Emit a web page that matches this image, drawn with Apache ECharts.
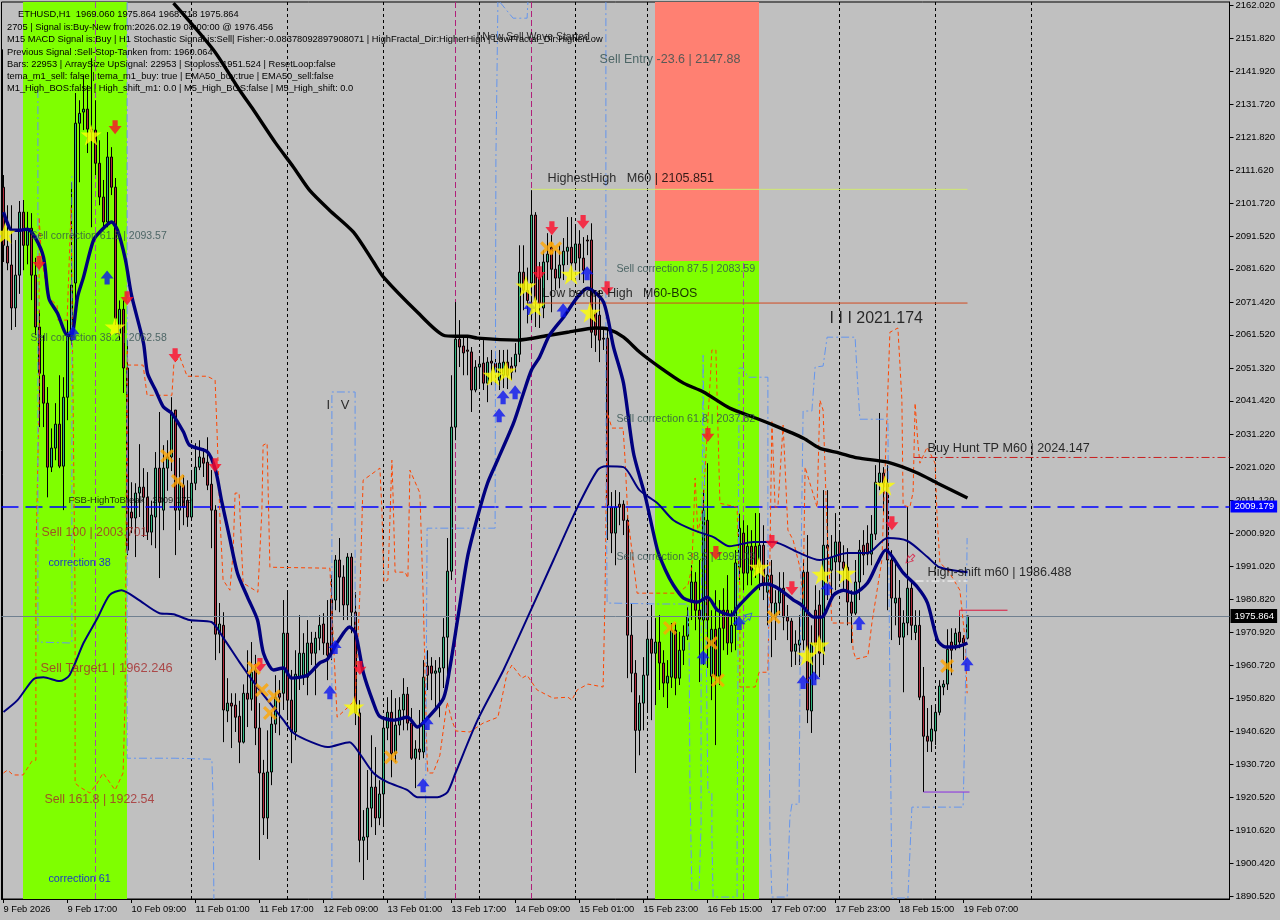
<!DOCTYPE html>
<html><head><meta charset="utf-8">
<style>html,body{margin:0;padding:0;background:#c0c0c0}#c{width:1280px;height:920px}</style>
<script src="https://cdn.jsdelivr.net/npm/echarts@6/dist/echarts.min.js"></script>
</head><body><div id="c"></div>
<script>
const tickLabels=["9 Feb 2026","9 Feb 17:00","10 Feb 09:00","11 Feb 01:00","11 Feb 17:00","12 Feb 09:00","13 Feb 01:00","13 Feb 17:00","14 Feb 09:00","15 Feb 01:00","15 Feb 23:00","16 Feb 15:00","17 Feb 07:00","17 Feb 23:00","18 Feb 15:00","19 Feb 07:00"];
const priceTicks=[2162.02,2151.82,2141.92,2131.72,2121.82,2111.62,2101.72,2091.52,2081.62,2071.42,2061.52,2051.32,2041.42,2031.22,2021.02,2011.12,2000.92,1991.02,1980.82,1970.92,1960.72,1950.82,1940.62,1930.72,1920.52,1910.62,1900.42,1890.52];
// open, close, low, high
const candles=[
[2106.5,2088.8,2083.7,2110.2],[2088.5,2083.4,2081.2,2101],[2082.8,2069.7,2063,2101],[2069.7,2079.7,2063.9,2090.4],[2079.7,2098.9,2074,2102.3],[2098.9,2088.8,2081.2,2102.6],[2088.8,2093.4,2083,2099],[2094,2079.7,2072.1,2098.6],
[2079.7,2063.9,2061.4,2085],[2063.9,2049.8,2033.4,2069],[2049.2,2040.7,2033.4,2061.4],[2040.7,2021.2,2012,2045.6],[2021.2,2027,2019.7,2033],[2027,2034.3,2023.3,2040.7],[2034.3,2021.5,2020.9,2049.2],[2021.5,2042.5,2008.1,2048.6],
[2042.5,2061.4,2035.5,2066],[2059.9,2076.7,2058.4,2108],[2077.3,2126,2072,2135.2],[2126,2129,2108,2133],[2129.4,2130.3,2123.9,2140.6],[2130.3,2124.2,2116.9,2137.6],[2124.2,2123.3,2094.3,2145.8],[2123.9,2113.8,2110.2,2133],
[2113.8,2103.5,2101,2120.8],[2103.5,2095.9,2094.3,2108.7],[2095.9,2115.7,2094.3,2123.3],[2115.7,2106.5,2104.1,2118.7],[2106.5,2066.6,2064.5,2109.3],[2062,2069.3,2059.9,2072],[2069.3,2051.4,2043.8,2072],[2051.4,1995.9,1994.4,2059.9],
[2007.5,2005.7,2001.1,2016.6],[2005.7,2013.3,1993.8,2016.3],[2013.3,2015.1,2006,2028.2],[2015.1,2012,1999.9,2020.9],[2012,2001.4,1999,2019.7],[2001.4,2006.6,1997.4,2011],[2006,2020.9,1996.5,2025.8],[2020.9,2010.5,1987.4,2038],
[2008.1,2020.9,2002,2027.9],[2020.9,2024.3,2014,2029.4],[2024.3,2037.7,2020,2042.5],[2038.6,2008.1,1994.4,2038.6],[2008.1,2016.3,2002,2024],[2015.7,2009,2003.5,2018.8],[2011.1,2006,2003,2017.2],[2006,2016.3,2005,2020.3],
[2016.3,2021.2,2014.2,2028.5],[2021.2,2024.3,2020.3,2029.4],[2024,2022.4,2018.2,2027],[2022.7,2015.7,2014.2,2030.3],[2016,2008.1,1996.5,2020.3],[2008.1,1970.3,1962.4,2009.6],[1970.3,1973.4,1964.5,1979.8],[1973,1947.2,1937.4,1977],
[1946.9,1949.3,1943.5,1956.9],[1949.3,1948.4,1935.6,1952.3],[1948.7,1945,1940.5,1952.3],[1945.3,1937.4,1931,1950],[1937.4,1952.3,1937,1955],[1952.3,1950.5,1942,1965.4],[1950.5,1958.7,1947,1967.9],[1959.4,1941.7,1936.5,1964],
[1941.7,1928,1901.5,1949.3],[1928,1914.3,1909.1,1932],[1914.3,1928.3,1907.9,1941],[1928.3,1942.9,1924.3,1946.5],[1942.9,1951.1,1940.2,1957.8],[1952.3,1951.1,1939.5,1956.3],[1952.3,1970.6,1947.2,1980.7],[1970.6,1950.2,1944.1,1983.7],
[1950.2,1940.5,1931,1959.4],[1940.5,1958.1,1938,1965.4],[1957.2,1964.5,1953.3,1976.1],[1957.8,1964.5,1954.8,1970.6],[1957.2,1967.6,1951.7,1974.6],[1967.6,1964.5,1960.9,1971],[1964.5,1969.1,1951.7,1971],[1969.1,1973,1965.4,1976.1],
[1973.4,1967.6,1964,1976.7],[1967.6,1963.9,1956.3,1980.7],[1981,1964.5,1962.4,1988.3],[1980.7,1992.9,1977.6,1994.4],[1992.9,1987.7,1977,1999.6],[1987.7,1979.2,1974.6,1991.3],[1979.2,1993.8,1974.6,1995],[1993.8,1977,1970.6,1995],
[1977,1946.3,1942.6,1983.1],[1946.3,1907.5,1900.8,1950.2],[1907.5,1908.5,1895.4,1916.7],[1908.5,1917.3,1901.5,1928.9],[1917.3,1923.7,1911.5,1939.5],[1923.7,1914.3,1909.1,1935.9],[1914.3,1921.6,1912.1,1925.8],[1921.6,1941.7,1912.1,1944.7],
[1941.7,1946.5,1938,1951.1],[1946.5,1934,1926.7,1953.3],[1934,1942.6,1931.3,1950.8],[1942.6,1947.2,1939.5,1951.1],[1947.2,1952,1941,1956.9],[1952,1943.2,1941,1954.2],[1943.2,1932.5,1932,1947.8],[1932.5,1935.3,1923.4,1938],
[1935.3,1934.4,1932,1947.2],[1934.4,1957.2,1932.5,1962.4],[1960.6,1957.8,1953.3,1965.4],[1960.6,1958.4,1950.2,1963.3],[1958.4,1959.1,1948.1,1962.4],[1958.7,1960,1945,1963.3],[1960,1969.4,1953.9,1975.2],[1969.4,1989.5,1954.2,1999.6],
[1989.5,2033.4,1986.8,2049.2],[2033.4,2060.2,2029.4,2071.5],[2060.2,2057.8,2051.7,2066],[2058.1,2056,2049.2,2060.8],[2056.9,2056.5,2049.2,2060.8],[2056.3,2044.7,2038,2057.8],[2044.7,2051.7,2044,2053.8],[2051.7,2052.6,2045.6,2054.7],
[2052.9,2046.8,2044.7,2059.9],[2046.8,2053.2,2041,2054.7],[2053.5,2052.9,2046.2,2056.9],[2052.9,2050.1,2046.2,2056.3],[2047.7,2052.9,2044.7,2056.9],[2049.2,2053.2,2045.3,2056.9],[2053.2,2049.2,2045,2057],[2052,2050.1,2047.7,2054.7],
[2052,2055.6,2050.1,2059],[2055.6,2080.6,2053.2,2088.8],[2080.6,2075.1,2069,2088.8],[2075,2072,2065,2082],[2077.3,2098,2066,2105.6],[2098,2072.1,2063.9,2098.9],[2079,2071.2,2063.6,2083.7],[2069.7,2083.7,2066.6,2087.3],
[2083.7,2086.1,2078.2,2092.5],[2088.2,2081.5,2068.4,2091.9],[2081.5,2078.8,2075.1,2087.3],[2078.8,2082.8,2075.7,2088.8],[2082.8,2087,2078.2,2091],[2087,2088.2,2082.8,2097.4],[2088.2,2083.4,2078.2,2097.4],[2083.4,2089.2,2081.2,2095],
[2089.2,2084.9,2078.2,2093.4],[2084.9,2081.2,2077.3,2091.3],[2090.4,2090.1,2085.8,2091.9],[2090.4,2062.3,2057.5,2095.5],[2068.4,2061.4,2056.3,2075.1],[2067.5,2059.9,2053.2,2075.1],[2060.5,2060.2,2056.9,2063.6],[2060.5,2009.6,1999,2063],
[2009,2001.1,1995,2013.6],[2001.1,2009,1991.3,2014.2],[2009.9,2009,2003.5,2013.6],[2009.9,2005,2000.5,2011.1],[2005,1970,1956.9,2006.6],[1970,1958.4,1952.6,1979.8],[1958.4,1941,1928,1962.4],[1941,1949.3,1933.4,1951.7],
[1949.3,1957.8,1941,1963.3],[1957.8,1968.8,1947.2,1974],[1968.8,1964.5,1944.1,1979.2],[1964.5,1967.9,1948.7,1975.2],[1967.9,1961.5,1953.3,1976.1],[1961.5,1955.4,1951.1,1965.4],[1955.4,1957.5,1947.8,1962.4],[1957.2,1971.5,1953.9,1973.7],
[1971.5,1956.9,1951.7,1973.7],[1956.9,1965.4,1954.8,1971],[1965.4,1969.7,1960.9,1973],[1969.7,1975.8,1968.5,1978.5],[1980.1,1986.2,1974.6,1991.3],[1986.2,1977.6,1971.5,1989.2],[1977.6,1974.9,1955.7,1992.9],[1974.6,2008.1,1960.9,2014.2],
[2005,1974.6,1960,2022.4],[1957.5,1971.8,1950.2,1977.6],[1971.8,1957.5,1936.5,1983.7],[1957.5,1972.1,1954.8,1980.7],[1977.6,1972.1,1965.4,1984.3],[1977.6,1967.6,1964,1988.3],[1967.6,1973,1964.8,1977.6],[1973,1992,1965.4,1995.9],
[1990.7,2002.6,1986.8,2007],[2001.1,1988.9,1983.7,2005],[1988.9,1997.1,1985.2,2003.5],[1997.1,1989.8,1985.2,2002],[1997.1,1990.7,1987.4,2007.2],[1990.7,1997.4,1983.7,2007.2],[1997.4,1985.9,1980.7,2003.5],[1983.1,1988.3,1973,1992.9],
[1988.3,1979.8,1963.3,1992.9],[1975.5,1979.8,1968.5,1983.7],[1979.8,1984.3,1976.1,1989.2],[1984.3,1975.5,1971.5,1989.2],[1975.5,1974.3,1968.5,1979.2],[1974.3,1965.1,1960.3,1975.2],[1965.1,1967.3,1960.9,1971.5],[1967,1968.5,1960.9,1976.1],
[1968.5,1989.2,1965.4,1992.9],[1989.2,1947.2,1943.2,2000.5],[1946.9,1967.6,1940.2,1973],[1977.6,1967,1956.3,1985.2],[1979.2,1964.5,1957.2,1983.7],[1965.1,1997.4,1960.9,2014.2],[1997.4,1996.5,1980.7,2014.2],[1989.8,1993.8,1980.7,2000.5],
[1992.3,1998.4,1983.7,2007.2],[1998.4,1992.3,1986.8,2002],[1992.3,1990.4,1983.7,1997.4],[1990.7,1980.1,1973,1996.5],[1980.1,1976.7,1967.6,1983.7],[1976.7,1986.2,1976.1,1992.9],[1986.2,1995.9,1980.7,1999],[1997.4,1994.4,1988.3,2002],
[1998,1994.7,1991.3,2003.5],[1994.7,2000.8,1991.3,2006.6],[2000.8,2016.6,1999,2021.8],[2016.6,2019.4,2014.2,2037.7],[2019.4,2016.3,2006.6,2021.2],[2016.3,1992.9,1977.6,2021.8],[1992.9,1981.3,1968.5,1995.9],[1979.8,1981.3,1973,1992.9],
[1981.3,1969.4,1967,1986.8],[1969.4,1973.7,1952.6,1977.6],[1973.7,1984.3,1970,2009],[1984.3,1973,1968.5,1986.8],[1970.8,1973,1968.5,1977.6],[1973,1951.1,1950.2,1977.6],[1951.4,1939.2,1922.2,1960.3],[1939.2,1937.7,1934.4,1947.8],
[1937.7,1941.4,1934.4,1948.7],[1940.8,1946.5,1936.5,1948.7],[1946.5,1954.5,1945.6,1956.3],[1954.2,1955.1,1951.7,1956.3],[1955.1,1965.7,1953.3,1971.8],[1967.9,1965.4,1957.8,1972.1],[1967,1970.6,1965.4,1972.1],[1970.9,1967.9,1966,1977.3],
[1969.1,1967.6,1962.4,1970],[1969.06,1975.864,1968.718,1975.864]];
// thick navy line: bar positions and prices
const temaBars=[0,1,2,4,6,8,10,11,11.5,13.5,16,17,18.5,20,22.5,24.5,27,28.5,30.5,32,35,36,38,40,42,45,46.5,51,53,54.5,56.5,58.5,61,63.5,65,67.5,70,72,76,79,81,83.5,86.5,88,90,92.5,94,97.5,101,103.5,106,110,111.5,113.5,116,118.5,121,123.5,127.5,130,132,134,136.5,140,143.5,146,150,152.5,155,157.5,160.5,163.5,165.5,167.5,170,173.5,176,178.5,182,183.5,189,191,194,197.5,199.5,202.5,204.5,207.5,210,212.5,216,218.5,220.5,225,228.5,231,233.5,235.5,238,241];
const temaPrices=[2098.9,2095.5,2093.4,2093.4,2093.7,2091,2085.2,2075.1,2072.1,2068.1,2061.4,2061.4,2073,2079.1,2090.4,2093.4,2095.9,2093.4,2084.3,2073.6,2059,2049.8,2044.7,2039.5,2037.7,2031.9,2027.9,2025.8,2020.3,2011.1,1999.9,1988.9,1981.6,1974.6,1964.5,1959.4,1960,1956.9,1957.8,1961.5,1962.7,1967.9,1972.5,1970.6,1958.4,1949.3,1945.3,1944.1,1945,1942,1944.7,1950.8,1959.4,1974.6,1993.8,2006,2016.3,2023.3,2034.6,2043.8,2050.8,2054.7,2061.4,2066.9,2073,2075.7,2071.5,2057.8,2046.8,2025.5,2012,1995.9,1989.8,1985.2,1981.3,1980.1,1981.6,1977.6,1976.1,1978.5,1985.2,1985.6,1984,1980.7,1979.2,1975.5,1975.5,1982.2,1983.7,1982.8,1985.9,1992,1995.9,1988.9,1984.6,1979.8,1968.5,1966.4,1966.4,1967.6];
// thin navy line
const emaBars=[0,3.5,7.5,10,14,16.5,20,23.5,26.5,29.5,33.5,39,42.5,46.5,52,55,59,64,70,72.5,77,81,86.5,89,92.5,96,101,103.5,108.5,111,113,118.5,125,131.5,137.5,143.5,148.5,150.5,155,159,163.5,167.5,172.5,177.5,181.5,187.5,192.5,198.5,204,211,216,221,226,231,234,241];
const emaPrices=[1946.6,1950.2,1956.6,1957.2,1956,1957.8,1967.6,1975.2,1982.2,1983.7,1981,1976.7,1976.4,1974.6,1974,1969.1,1961.8,1953.3,1944.1,1940.2,1937.4,1935.9,1937.4,1934,1928,1925.2,1922.8,1920.6,1920.6,1922.2,1928,1944.1,1959.4,1976.7,1992.9,2009,2020.3,2021.5,2021.2,2014.2,2010.2,2005,2002,1999.9,1997.1,1998.4,1998.4,1995.3,1992.9,1995,1995,1999.6,1998.7,1993.8,1990.7,1989.2];
// thick black line
const slowBars=[42.5,52.5,59,62.5,68,72.5,76.5,81.5,87.5,92.5,95,103.5,110,113,116,118.5,128.5,136.5,141,148,151,155,159,164,170,175,181.5,187.5,192.5,200,204,209,213.5,221,228.5,233.5,241];
const slowPrices=[2162.6,2148.3,2136.1,2130,2120,2112.6,2105.6,2099.5,2092.8,2083.7,2079.1,2068.4,2061.4,2061.1,2061.1,2060.5,2059.9,2061.4,2062.3,2063.6,2063.3,2060.8,2056.3,2051.7,2046.8,2044.1,2039.2,2036.4,2034,2030,2027,2025.5,2024,2022.7,2019.4,2016.3,2011.8];
// orange dashed line
const orangeBars=[0,1,2.4,4.9,7.1,8.1,8.1,8.9,8.9,9.4,9.9,11.1,13.4,13.6,15.9,16.9,17.9,17.9,19.1,21.6,23.4,24.9,27.9,29.9,30.4,30.9,31.1,34.9,35.9,42.1,42.6,44.1,45.9,50.9,52.9,53.4,53.6,54.1,54.9,56.6,57.4,57.9,58.9,59.9,63.6,64.6,64.9,65.9,66.6,81.6,83.4,85.9,87.9,89.1,89.9,94.1,94.6,95.1,96.1,97.1,97.4,97.9,100.4,101.1,101.6,104.1,104.9,105.9,106.1,107.4,109.1,110.9,112.1,113.1,116.6,119.9,123.6,125.9,127.1,129.6,130.9,133.4,137.4,141.1,142.1,143.4,146.1,149.9,150.4,150.9,152.1,154.9,155.4,156.1,157.4,158.4,168.6,171.1,172.1,172.9,173.6,174.9,177.1,178.1,179.1,183.4,184.1,184.1,187.9,188.9,191.1,191.6,192.1,192.9,193.6,194.9,195.4,196.1,197.4,199.1,199.9,200.4,203.4,204.1,204.9,205.9,207.1,212.1,212.4,213.1,216.1,217.1,219.6,221.6,223.6,224.6,224.9,226.6,227.4,227.9,228.6,229.1,230.9,232.9,233.4,234.1,236.1,239.1,240.4,240.9];
const orangePrices=[1928,1928.9,1927.4,1927.4,1931.6,1931.9,1993.8,2041.6,2097.4,2087.3,2082.1,2073,2070.6,2066,2066,2100.4,1980.7,1924.9,1923.7,1921.9,1924.9,1928,1922.8,1928,1950.2,2056.9,2052.3,2052.3,2043.1,2043.1,2052.9,2054.7,2048.9,2048.9,2047.7,2031.6,2024.2,2006,1986.8,1983.7,1995,2013.3,2013.3,1985.9,1983.1,2008.1,2027.9,2028.5,1990.7,1990.4,1945,1947.8,1950.2,1982.8,2017.2,2020.9,2008.1,1986.2,1986.8,2023.3,2012.1,1989.2,1989.2,1987.4,2020.3,2013.3,1982.8,1931.9,1928,1928,1933.4,1949.6,1944.1,1940.8,1940.5,1943.2,1945,1958.4,1960.9,1956.9,1957.8,1953.3,1950.8,1951.1,1950.2,1953.3,1955.1,1954.2,1982.8,2038,2033.1,2033.1,2023.3,2005.7,1992.9,1982.8,1982.8,1985.2,1990.7,2017.9,2001.1,2009.6,2056.9,2056.9,2010.2,2009,1983.7,1954.2,1954.2,1958.7,1958.7,1992.9,2035.5,2009,2009,2034,2021.2,2002,1999,1990.7,1980.7,2021.2,2009,2041.6,2038.6,2002,1973.7,1973.7,1965.4,1962.7,1963.6,1973.7,1992.9,2062.3,2063.6,2041.6,2009.6,2009,2013.6,2040.7,2028.5,2022.4,2027.3,2022.4,2006,1992,1989.8,1983.7,1968.5,1952.3];
// blue dash-dot line (null separates pieces)
const blueBars=[8.6,8.6,17.1,17.1,null,30.9,30.9,42.9,52.1,52.4,52.6,null,82.1,82.1,87.9,87.9,null,105.4,105.9,122.9,123.1,123.6,null,124.1,127.4,130.9,131.1,null,150.6,150.6,150.9,163.6,171.1,171.4,171.6,172.1,173.9,174.4,174.4,174.9,175.9,176.1,177.1,177.1,177.4,183.4,183.4,183.6,183.9,184.9,186.1,191.1,191.1,191.1,191.6,192.1,195.9,196.6,197.1,198.9,199.1,199.4,199.9,202.1,202.9,204.9,205.9,212.9,213.6,214.1,221.1,221.4,222.1,226.1,226.6,227.1,239.9,240.1,240.6,240.9];
const bluePrices=[2136.1,1967.9,1967.6,2110.2,null,2162.9,1932.5,1932.5,1932.2,1919.7,1889.6,null,1889.6,2044.1,2044.1,1972.5,null,1889.6,2002.6,2002.6,2114.8,2162.9,null,2162.9,2158,2158,2162.9,null,2162.9,2038,1979.8,1979.5,1979.5,1968.5,1924.9,1892.3,1892.3,1912.7,1962.4,2055.3,1942,1922.2,1922.2,1908.5,1890.2,1890.2,1903.6,1957.2,2051.4,2051.4,2048.6,2048.6,2028.5,2002.9,1909.7,1890.2,1890.2,1914.6,1918.5,1918.5,1952.4,1992.9,2038.3,2038.3,2051.7,2052,2060.8,2060.8,2045.3,2035.8,2035.8,1980.7,1889.9,1889.9,1903.6,1917.6,1917.6,1928,1962.4,1999.6];
const starBars=[0.4,21.9,27.9,87.6,122.4,125.6,130.6,132.9,141.9,146.6,188.9,204.6,210.6,220.4,200.9,203.9];
const starPrices=[2092.5,2122.4,2063.9,1948.1,2049.2,2050.5,2076.4,2070.3,2080,2068.4,1990.7,1988.6,1988.9,2015.7,1963.9,1967];
const crossBars=[40.9,43.6,62.6,64.6,67.6,66.6,96.9,135.9,137.9,166.6,176.9,178.6,192.6,235.9];
const crossPrices=[2024.6,2017,1960,1953.3,1951.4,1946.3,1932.8,2087.9,2087.9,1972.2,1967.6,1956.3,1975.5,1960.6];
const upBars=[17.4,25.9,81.6,82.9,105.9,104.9,123.9,124.9,127.9,131.6,139.9,145.9,174.9,183.9,199.9,202.6,205.9,213.9,240.9];
const upPrices=[2062,2079,1952.6,1966.4,1943.2,1924.3,2037,2042.5,2044,2069.7,2069,2080.3,1963.3,1973.7,1955.7,1956.9,1984.3,1973.7,1961.2];
const downBars=[27.9,8.9,30.9,42.9,52.9,64.1,89.1,133.9,137.1,144.9,150.9,176.1,178.1,192.1,197.1,222.1];
const downPrices=[2124.8,2083.4,2072.7,2055.3,2021.8,1960.9,1960,2080.3,2094,2095.9,2075.7,2031,1995,1998.4,1984.3,2004.1];
const daySeparators=[47,71,95,119,143,161,209,233,257];
const noteTexts=["Sell Entry -23.6 | 2147.88","HighestHigh   M60 | 2105.851","Sell correction 87.5 | 2083.59","Low before High   M60-BOS","I I I 2021.174","Sell correction 61.8 | 2093.57","Sell correction 38.2 | 2062.58","I   V","Sell correction 61.8 | 2037.82","Sell correction 38.2 | 1995.09","FSB-HighToBreak | 2009.179","Sell 100 | 2003.701","correction 38","Sell Target1 | 1962.246","Sell 161.8 | 1922.54","correction 61","Buy Hunt TP M60 | 2024.147","High-shift m60 | 1986.488","I New Sell Wave Started"];
const noteBars=[148.9,135.9,153.1,134.6,206.4,6.6,6.6,80.6,153.1,153.1,16.1,9.4,11.1,9.1,10.1,11.1,230.9,230.9,118.1];
const notePrices=[2145.5,2109,2081.5,2074.2,2066.6,2091.6,2060.5,2040.1,2035.8,1993.8,2011.1,2001.4,1992,1960,1920,1895.7,2027,1989.2,2152.2];
const infoLines=["ETHUSD,H1  1969.060 1975.864 1968.718 1975.864","2705 | Signal is:Buy-New from:2026.02.19 08:00:00 @ 1976.456","M15 MACD Signal is:Buy | H1 Stochastic Signal is:Sell| Fisher:-0.08378092897908071 | HighFractal_Dir:HigherHigh | LowFractal_Dir:HigherLow","Previous Signal :Sell-Stop-Tanken from: 1960.064","Bars: 22953 | ArraySize UpSignal: 22953 | Stoploss:1951.524 | ResetLoop:false","tema_m1_sell: false | tema_m1_buy: true | EMA50_buy:true | EMA50_sell:false","M1_High_BOS:false | High_shift_m1: 0.0 | M5_High_BOS:false | M5_High_shift: 0.0"];

const FONT='"Liberation Sans"';
const yMax=2162.934,yMin=1889.606;
const pairs=(b,p)=>b.map((x,i)=>[x===null?'-':x,p[i]===null?'-':p[i]]);
const categories=Array.from({length:307},(_,i)=>tickLabels[i/16]||'');
const tickShown=i=>i%16===0&&i<=240;
const base={type:'line',xAxisIndex:1,yAxisIndex:0,symbol:'none',showSymbol:false,silent:true,animation:false};
function line(b,p,color,width,type,z,smooth){return Object.assign({},base,{data:pairs(b,p),z:z,smooth:smooth||false,lineStyle:{color:color,width:width,type:type||'solid',cap:'butt'}});}
const noteColor=['#2f4f4f','#000','#2f4f4f','#000','#000','#2f4f4f','#2f4f4f','#000','#2f4f4f','#2f4f4f','#000','#a52a2a','#0000ff','#a52a2a','#a52a2a','#0000ff','#000','#000','#000'];
const noteSize=[12.5,12.6,10.7,12.4,16,10.5,10.5,13,10.7,10.7,9.5,12.3,10.8,12.9,12.4,10.8,12.6,12.6,10.5];

const STAR='path://M50 0L61 35L98 35L68 57L79 91L50 70L21 91L32 57L2 35L39 35Z';
const CROSS='path://M16 0L50 33L84 0L100 16L67 50L100 84L84 100L50 67L16 100L0 84L33 50L0 16Z';
const UP='path://M50 0L100 58L70 58L70 100L30 100L30 58L0 58Z';
const DOWN='path://M30 0L70 0L70 42L100 42L50 100L0 42L30 42Z';
function marks(b,p,symbol,size,color,z){return {type:'scatter',xAxisIndex:1,yAxisIndex:0,symbol:symbol,symbolSize:size,silent:true,animation:false,z:z||8,data:pairs(b,p),itemStyle:{color:color}};}

const series=[
 Object.assign({},base,{data:[],z:1,markArea:{silent:true,animation:false,z:1,itemStyle:{opacity:1},data:[
  [{coord:[4.875,yMax],itemStyle:{color:'#7fff00',opacity:1}},{coord:[30.875,yMin]}],
  [{coord:[162.875,2084],itemStyle:{color:'#7fff00',opacity:1}},{coord:[188.875,yMin]}],
  [{coord:[162.875,yMax],itemStyle:{color:'#ff8072',opacity:1}},{coord:[188.875,2084]}]
 ]}})
];
daySeparators.forEach(k=>series.push(line([k,k],[yMin,yMax],'#000',1,[3,3],2)));
series.push(line([23,23],[yMin,yMax],'#a84aa8',1,[6,3],3));
series.push(line([113,113],[yMin,yMax],'#b0207a',1,[6,3],3));
series.push(line([132,132],[yMin,yMax],'#b0207a',1,[6,3],3));
series.push(line([185,185],[yMin,2084],'#a84aa8',1,[6,3],3));
series.push(line([-0.25,-0.25],[yMin,2148.5],'#000',1,'solid',4));
series.push({type:'candlestick',xAxisIndex:0,yAxisIndex:0,data:candles,barWidth:3,z:4,silent:true,animation:false,
 itemStyle:{color:'#2fb57f',color0:'#b22a3c',borderColor:'#000',borderColor0:'#000',borderWidth:1}});
series.push(line(orangeBars,orangePrices,'#ff4500',1,[4,3],5));
series.push(line(blueBars,bluePrices,'#6495ed',1,[8,3,2,3],5));
series.push(line([132,241],[2105.851,2105.851],'#d0e870',1,'solid',5));
series.push(line([131,241],[2071.2,2071.2],'#d04a20',1,'solid',5));
series.push(line([227.5,306.5],[2024.147,2024.147],'#c81e1e',1,[8,3,2,3],5));
series.push(line([228,241],[1986.5,1986.5],'#ffffff',1,[8,3,2,3],5));
series.push(line([230,241.5],[1922.2,1922.2],'#8a2be2',1,'solid',5));
series.push(line([239,239,251],[1975.9,1977.6,1977.6],'#dc143c',1,'solid',5));
series.push(Object.assign({},base,{data:[],z:6,markLine:{silent:true,animation:false,symbol:'none',precision:3,data:[
 {yAxis:2009.179,lineStyle:{color:'#0000ff',width:1.5,type:[17,7]},label:{show:true,position:'end',distance:1,formatter:'2009.179',color:'#fff',backgroundColor:'#0000ff',padding:[1,3,1,4],fontFamily:FONT,fontSize:9.5}},
 {yAxis:1975.864,lineStyle:{color:'#708090',width:1,type:'solid'},label:{show:true,position:'end',distance:1,formatter:'1975.864',color:'#fff',backgroundColor:'#000',padding:[2,3,2,4],fontFamily:FONT,fontSize:9.5}}
]}}));
series.push(line(slowBars,slowPrices,'#000',3.4,'solid',7,0.25));
series.push(line(emaBars,emaPrices,'#00007f',2,'solid',7,0.25));
series.push(line(temaBars,temaPrices,'#00007f',3.4,'solid',7,0.25));
series.push(marks(upBars,upPrices,UP,[13,14],'#0a14f0'));
series.push(marks(downBars,downPrices,DOWN,[13,14],'#ff0a28'));
series.push(marks(crossBars,crossPrices,CROSS,[14,14],'#ffa500'));
series.push(marks(starBars,starPrices,STAR,[21,21],'#ffff00'));
series.push({type:'scatter',xAxisIndex:1,yAxisIndex:0,silent:true,animation:false,z:8,symbol:UP,symbolSize:[7,11],
 data:[{value:[186.1,1975.5],symbolRotate:-45,itemStyle:{color:'transparent',borderColor:'#1e50ff',borderWidth:1}},
       {value:[226.6,1993.2],symbolRotate:135,itemStyle:{color:'transparent',borderColor:'#dc143c',borderWidth:1}}]});
series.push({type:'scatter',xAxisIndex:1,yAxisIndex:0,silent:true,animation:false,z:9,symbolSize:1,itemStyle:{color:'transparent'},
 data:noteTexts.map((t,i)=>({value:[noteBars[i],notePrices[i]],label:{show:true,position:'right',distance:0,formatter:t,color:noteColor[i],fontSize:noteSize[i],fontFamily:FONT}}))});

const chart=echarts.init(document.getElementById('c'),null,{renderer:'canvas'});
chart.setOption({
 animation:false,backgroundColor:'#c0c0c0',
 grid:{left:1.5,top:2,width:1228,height:897,containLabel:false,outerBoundsMode:'none',show:true,borderColor:'#000',borderWidth:1,backgroundColor:'transparent'},
 xAxis:[
  {type:'category',data:categories,boundaryGap:true,position:'bottom',
   axisLine:{show:true,onZero:false,lineStyle:{color:'#000',width:1}},splitLine:{show:false},
   axisTick:{show:true,length:4,alignWithLabel:true,interval:tickShown,lineStyle:{color:'#000'}},
   axisLabel:{show:true,interval:tickShown,align:'left',margin:6,color:'#000',fontSize:9.3,fontFamily:FONT,hideOverlap:false}},
  {type:'value',min:-0.5,max:306.5,show:false,position:'top',splitLine:{show:false}}
 ],
 yAxis:[{type:'value',position:'right',min:yMin,max:yMax,scale:true,splitLine:{show:false},
   axisLine:{show:true,onZero:false,lineStyle:{color:'#000',width:1}},
   axisTick:{show:true,length:4,customValues:priceTicks,lineStyle:{color:'#000'}},
   axisLabel:{show:true,customValues:priceTicks,margin:6,color:'#000',fontSize:9.5,fontFamily:FONT,formatter:v=>v.toFixed(3),showMinLabel:true,showMaxLabel:true}}],
 graphic:infoLines.map((t,i)=>({type:'text',z:100,silent:true,x:i===0?18:7,y:[10,23,35,48,60,72,84][i],style:{text:t,fill:'#000',font:'9.3px '+FONT,textBaseline:'middle',textAlign:'left'}})),
 series:series
});
</script></body></html>
